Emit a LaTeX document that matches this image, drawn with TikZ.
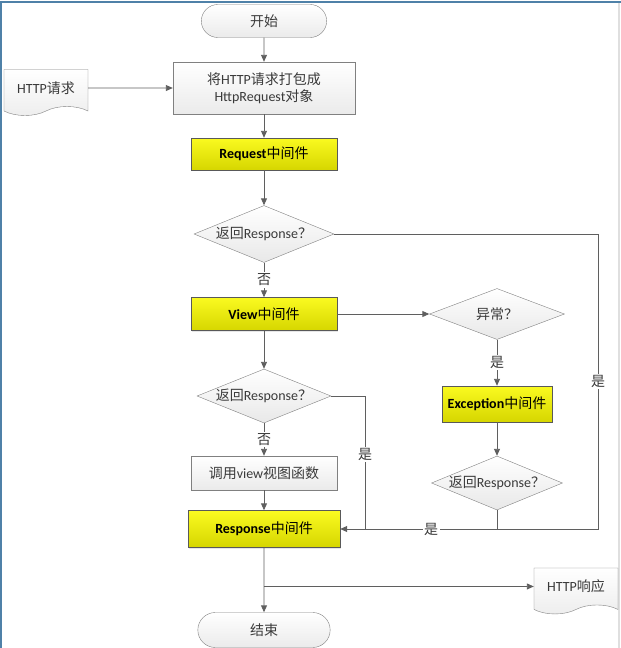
\documentclass[tikz,border=0pt]{standalone}
\usepackage{fontspec}
\setmainfont{Carlito}
\newfontfamily\cjk{Noto Sans CJK SC}
\newcommand{\zh}[1]{{\cjk\mdseries #1}}
\usetikzlibrary{positioning,calc,arrows.meta,shapes.geometric,shapes.misc,shapes.symbols,shadows}

\definecolor{linegray}{HTML}{5F5F5F}
\definecolor{boxedge}{HTML}{808080}
\definecolor{mwtop}{HTML}{FAFA20}
\definecolor{mwbottom}{HTML}{D6D600}
\definecolor{frameblue}{HTML}{4F81A8}
\definecolor{txtgray}{HTML}{3A3A3A}

\begin{document}
\begin{tikzpicture}[x=1pt, y=1pt, font=\fontsize{14}{17}\selectfont,
    term/.style = {draw=boxedge, rounded rectangle, top color=white, bottom color=gray!16,
        minimum width=132pt, minimum height=33pt, text=txtgray},
    proc/.style = {draw=boxedge, rectangle, top color=white, bottom color=gray!16, text=txtgray,
        inner sep=2pt, drop shadow={opacity=0.2, shadow xshift=1.2pt, shadow yshift=-1.2pt}},
    mw/.style = {draw=gray!70!black, rectangle, top color=mwtop, bottom color=mwbottom,
        font=\fontsize{14}{17}\selectfont\bfseries, inner sep=2pt,
        drop shadow={opacity=0.2, shadow xshift=1.2pt, shadow yshift=-1.2pt}},
    decision/.style = {draw=boxedge, diamond, aspect=2.4, inner sep=0pt, top color=white,
        bottom color=gray!18, text=txtgray},
    doc/.style = {draw=boxedge, tape, tape bend top=none, tape bend height=9pt,
        top color=white, bottom color=gray!14, text=txtgray,
        minimum width=84pt, minimum height=46pt},
    line/.style = {draw=linegray, line width=0.9pt},
    arrow/.style = {line, -{Triangle[length=7pt, width=6pt]}},
    lbl/.style = {fill=white, inner sep=1.5pt, text=txtgray}]

    \useasboundingbox (0,0) rectangle (621,-648);
    \draw[frameblue, line width=1.5pt] (1,-648) -- (1,-2) -- (621,-2);
    \draw[gray!25, line width=1.5pt] (619,-3) -- (619,-648);

    % main column
    \node[term] (start) at (264,-21) {\zh{开始}};
    \node[proc, minimum width=182pt, minimum height=52pt, align=center] (pack) [below of=start, node distance=67pt]
        {\zh{将}HTTP\zh{请求打包成}\\HttpRequest\zh{对象}};
    \node[mw, minimum width=146pt, minimum height=32pt] (reqmw) [below of=pack, node distance=66pt] {Request\zh{中间件}};
    \node[decision, minimum width=140pt, minimum height=57pt] (dreq) [below of=reqmw, node distance=80pt] {\zh{返回}Response\zh{？}};
    \node[mw, minimum width=146pt, minimum height=33pt] (viewmw) [below of=dreq, node distance=80pt] {View\zh{中间件}};
    \node[decision, minimum width=134pt, minimum height=54pt] (dview) [below of=viewmw, node distance=82pt] {\zh{返回}Response\zh{？}};
    \node[proc, minimum width=146pt, minimum height=34pt] (call) [below of=dview, node distance=77pt] {\zh{调用}view\zh{视图函数}};
    \node[mw, minimum width=152pt, minimum height=37pt] (respmw) [below of=call, node distance=56pt] {Response\zh{中间件}};
    \node[term, minimum width=139pt, minimum height=35pt] (end) [below of=respmw, node distance=101pt] {\zh{结束}};

    % side nodes
    \node[doc] (httpin) [left of=pack, node distance=218pt] {HTTP\zh{请求}};
    \node[decision, minimum width=135pt, minimum height=51pt] (dexc) [right of=viewmw, node distance=233pt] {\zh{异常？}};
    \node[mw, minimum width=110pt, minimum height=36pt] (excmw) [below of=dexc, node distance=90pt] {Exception\zh{中间件}};
    \node[decision, minimum width=131pt, minimum height=54pt] (dexcresp) [below of=excmw, node distance=79pt] {\zh{返回}Response\zh{？}};

    \coordinate (branch) at ($(respmw.south)!0.6!(end.north)$);
    \node[doc] (httpout) [right of=branch, node distance=312pt] {HTTP\zh{响应}};

    \coordinate (rcorner) at (598,-529);
    \coordinate (mjoin) at (365,-529);
    \coordinate (djoin) at (dexcresp.south |- respmw.east);

    \draw[arrow] (start) -- (pack);
    \draw[arrow] (httpin) -- (pack);
    \draw[arrow] (pack) -- (reqmw);
    \draw[arrow] (reqmw) -- (dreq);
    \draw[arrow] (dreq) -- node[lbl] {\zh{否}} (viewmw);
    \draw[arrow] (viewmw) -- (dexc);
    \draw[arrow] (viewmw) -- (dview);
    \draw[arrow] (dview) -- node[lbl] {\zh{否}} (call);
    \draw[arrow] (call) -- (respmw);
    \draw[arrow] (dexc) -- node[lbl] {\zh{是}} (excmw);
    \draw[arrow] (excmw) -- (dexcresp);
    \draw[arrow] (dreq.east) -| node[lbl, pos=0.75] {\zh{是}} (rcorner) -- (respmw.east);
    \draw[line] (dview.east) -| node[lbl, pos=0.72] {\zh{是}} (mjoin);
    \draw[line] (dexcresp.south) -- (djoin);
    \path (mjoin) -- node[lbl] {\zh{是}} (djoin);
    \draw[arrow] (respmw) -- (end);
    \draw[arrow] (branch) -- (httpout);
\end{tikzpicture}
\end{document}
